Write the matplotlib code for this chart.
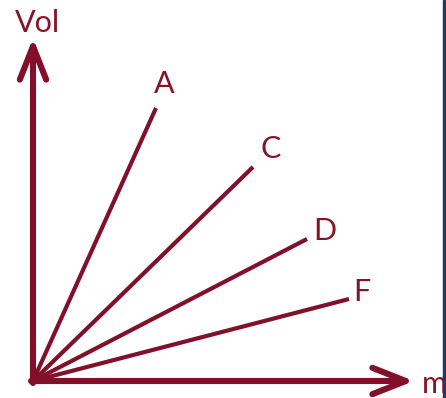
import matplotlib.pyplot as plt
from matplotlib.patches import Rectangle

# end points of each substance line (mass, volume)
labels = ["A", "C", "D", "F"]
mass = [123, 220, 274, 316]
vol = [273, 214, 142, 82]

# label offsets from each line end (pixels)
label_dx = [8, 18, 18, 13]
label_dy = [24, 18, 8, 7]

RED = "#82102a"
TXT = "#861428"

plt.rcParams["font.family"] = ["Lato", "DejaVu Sans"]

fig = plt.figure(figsize=(4.46, 3.98), dpi=100)
ax = fig.add_axes([0, 0, 1, 1])
ax.set_xlim(-33, 413)
ax.set_ylim(-17, 381)
ax.axis("off")

# axes with open arrow heads
arrow = dict(arrowstyle="->,head_length=2.4,head_width=0.95", color=RED,
             lw=4.4, mutation_scale=10, shrinkA=0, shrinkB=0)
ax.annotate("", xy=(0, 343), xytext=(0, -2), arrowprops=arrow)
ax.annotate("", xy=(381, 0), xytext=(-2, 0), arrowprops=arrow)

for lab, m, v, dx, dy in zip(labels, mass, vol, label_dx, label_dy):
    ax.plot([0, m], [0, v], color=RED, lw=3, solid_capstyle="butt")
    ax.text(m + dx, v + dy, lab, color=TXT, fontsize=22, ha="center", va="center")

ax.text(4, 358, "Vol", color=TXT, fontsize=22, ha="center", va="center")
ax.text(389, -3, "m", color=TXT, fontsize=22, ha="left", va="center")

# dark frame edge on the right
fig.patches.append(Rectangle((443 / 446, 0), 3 / 446, 1, transform=fig.transFigure,
                             color="#1f3a68", zorder=5))

fig.savefig("out.png", dpi=100)
